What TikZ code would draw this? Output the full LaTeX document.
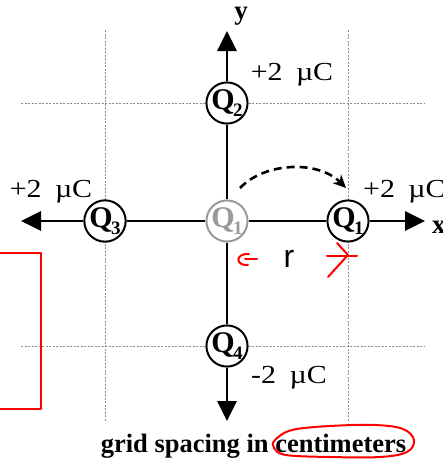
\documentclass[tikz,border=0pt]{standalone}
\usepackage{fontspec}
\setmainfont{Liberation Serif}
\newfontfamily\arialfont{Liberation Sans}
\usetikzlibrary{arrows.meta}
\newcommand{\qlab}[1]{{\fontsize{30}{30}\selectfont\bfseries Q\kern-1.5pt\raisebox{-7pt}{\fontsize{19}{19}\selectfont #1}}}
\begin{document}
\begin{tikzpicture}[x=1pt,y=-1pt,
  charge/.style={circle,draw,line width=2pt,fill=white,minimum size=41pt,inner sep=0pt},
  axisline/.style={line width=2.8pt},
  gridline/.style={black!45,line width=0.7pt,dash pattern=on 2pt off 1.5pt},
  tipped/.style={-{Triangle[length=20pt,width=19pt]}},
  lbl/.style={font=\fontsize{26}{26}\selectfont, xscale=1.15, inner sep=0pt, anchor=base},
  annot/.style={red,line width=2pt,line cap=round,line join=round}]
\clip (0,0) rectangle (443,459);
\fill[white] (0,0) rectangle (443,459);
% grid
\draw[gridline] (21,103) -- (425,103);
\draw[gridline] (21,346) -- (425,346);
\draw[gridline] (105,30) -- (105,422);
\draw[gridline] (348,30) -- (348,422);
% charges
\node[charge,draw=black!40,text=black!40] (Qc) at (227,221) {\qlab{1}};
\node[charge] (Q2) at (227,103) {\qlab{2}};
\node[charge] (Q3) at (105,221) {\qlab{3}};
\node[charge] (Q4) at (227,346) {\qlab{4}};
\node[charge] (Q1) at (348,221) {\qlab{1}};
% axis tips
\coordinate (ytip) at (227,31);
\coordinate (ltip) at (21,221);
\coordinate (xtip) at (425,221);
\coordinate (dtip) at (227,421);
\draw[axisline] (Qc) -- (Q2);
\draw[axisline,tipped] (Q2) -- (ytip);
\draw[axisline] (Qc) -- (Q3);
\draw[axisline,tipped] (Q3) -- (ltip);
\draw[axisline] (Qc) -- (Q1);
\draw[axisline,tipped] (Q1) -- (xtip);
\draw[axisline] (Qc) -- (Q4);
\draw[axisline,tipped] (Q4) -- (dtip);
% axis labels
\node[font=\fontsize{27}{27}\selectfont\bfseries, inner sep=0pt, anchor=base] (ylab) at (241,19) {y};
\node[font=\fontsize{27}{27}\selectfont\bfseries, inner sep=0pt, anchor=base west] (xlab) at (432,233) {x};
% charge labels
\node[lbl] (c2) at (292,80) {+2\hspace{0.45em}µC};
\node[lbl] (c3) at (51,197) {+2\hspace{0.45em}µC};
\node[lbl,anchor=base west] (c1) at (363,197) {+2\hspace{0.45em}µC};
\node[lbl] (c4) at (289,383) {-2\hspace{0.45em}µC};
% dashed arc
\coordinate (arcS) at (240,188);
\coordinate (arcE) at (346,188);
\draw[line width=2.6pt, dash pattern=on 8pt off 5pt, -{Stealth[length=13pt,width=12pt]}] (arcS) .. controls (265,162) and (318,160) .. (arcE);
% r
\node[font=\arialfont\fontsize{32}{32}\selectfont, inner sep=0pt, anchor=base] (rlab) at (289,267) {r};
% caption
\node[font=\fontsize{26.5}{26.5}\selectfont\bfseries, inner sep=0pt, anchor=base] (cap) at (253.5,452) {grid spacing in centimeters};
% red annotations
\draw[annot] (-5,253) -- (41,253) -- (41,409) -- (-5,409);
\draw[annot] (249,254) .. controls (235,253) and (235,266) .. (248,265);
\draw[annot] (245,259) -- (257,259);
\draw[annot] (327,256) -- (357,256);
\draw[annot] (337,243) -- (348,255) -- (328,277);
\draw[annot] plot[smooth cycle, tension=0.6] coordinates {(275,440) (292,430) (330,426) (375,425) (403,429) (414,440) (407,452) (380,457) (330,457) (286,455) (274,448)};
\end{tikzpicture}
\end{document}
